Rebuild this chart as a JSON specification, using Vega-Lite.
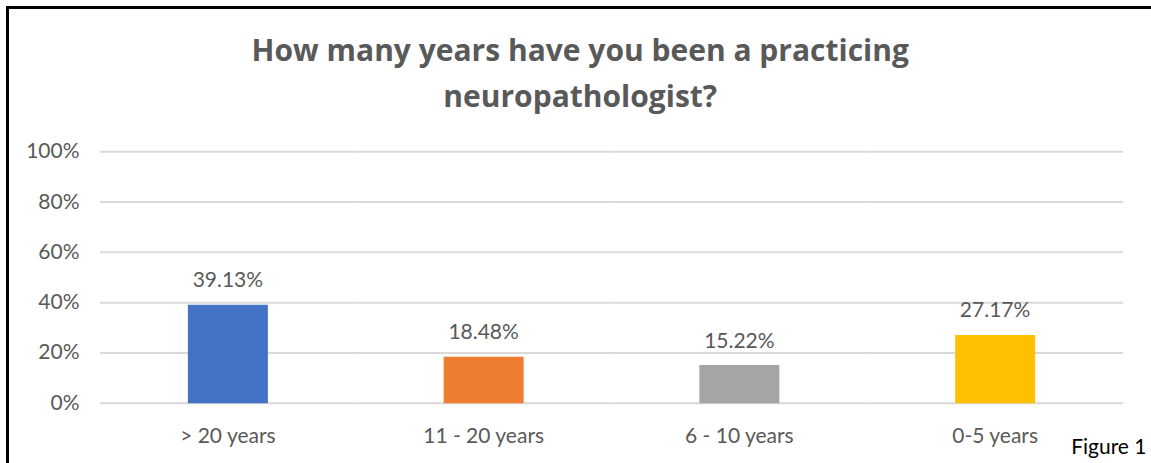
{
  "$schema": "https://vega.github.io/schema/vega-lite/v6.json",
  "autosize": "none",
  "width": 1145.5,
  "height": 470,
  "padding": {"left": 7.5, "top": 7.5, "right": 0, "bottom": 0},
  "background": "white",
  "config": {
    "view": {"stroke": "black", "strokeWidth": 3, "fill": "white"},
    "font": "Lato"
  },
  "title": {
    "text": ["How many years have you been a practicing", "neuropathologist?"],
    "font": "Open Sans",
    "fontSize": 30,
    "fontWeight": "bold",
    "color": "#595959",
    "anchor": "middle",
    "frame": "group",
    "offset": -105,
    "lineHeight": 46
  },
  "data": {
    "values": [
      {"cat": "> 20 years", "pct": 0.3913},
      {"cat": "11 - 20 years", "pct": 0.1848},
      {"cat": "6 - 10 years", "pct": 0.1522},
      {"cat": "0-5 years", "pct": 0.2717}
    ]
  },
  "encoding": {
    "x": {
      "field": "cat",
      "type": "nominal",
      "sort": ["> 20 years", "11 - 20 years", "6 - 10 years", "0-5 years"],
      "scale": {
        "domain": ["> 20 years", "11 - 20 years", "6 - 10 years", "0-5 years"],
        "paddingInner": 0,
        "paddingOuter": 0.2395,
        "align": 0.7551
      },
      "axis": {
        "orient": "bottom",
        "title": "Figure 1",
        "labelAngle": 0,
        "domain": false,
        "ticks": false,
        "tickSize": 0,
        "grid": false,
        "labelPadding": 0,
        "offset": -35.5,
        "labelBaseline": "alphabetic",
        "labelFont": "Lato",
        "labelFontSize": 21,
        "labelColor": "#595959",
        "titleFont": "Lato",
        "titleFontSize": 21,
        "titleFontWeight": "normal",
        "titleColor": "black",
        "titleX": 1138.5,
        "titleY": 11,
        "titleAlign": "right",
        "titleBaseline": "alphabetic"
      }
    },
    "y": {
      "field": "pct",
      "type": "quantitative",
      "scale": {"domain": [-0.2949, 1.5731], "nice": false, "zero": false},
      "axis": {
        "values": [0, 0.2, 0.4, 0.6, 0.8, 1],
        "format": ".0%",
        "title": null,
        "grid": false,
        "domain": false,
        "ticks": false,
        "tickSize": 0,
        "labelPadding": 0,
        "offset": -71.5,
        "labelFont": "Lato",
        "labelFontSize": 21,
        "labelColor": "#595959"
      }
    }
  },
  "layer": [
    {
      "data": {
        "values": [
          {"g": 0, "cat": ["> 20 years", "11 - 20 years", "6 - 10 years", "0-5 years"]},
          {"g": 0.2, "cat": ["> 20 years", "11 - 20 years", "6 - 10 years", "0-5 years"]},
          {"g": 0.4, "cat": ["> 20 years", "11 - 20 years", "6 - 10 years", "0-5 years"]},
          {"g": 0.6, "cat": ["> 20 years", "11 - 20 years", "6 - 10 years", "0-5 years"]},
          {"g": 0.8, "cat": ["> 20 years", "11 - 20 years", "6 - 10 years", "0-5 years"]},
          {"g": 1, "cat": ["> 20 years", "11 - 20 years", "6 - 10 years", "0-5 years"]}
        ]
      },
      "transform": [{"flatten": ["cat"]}],
      "mark": {"type": "tick", "size": 255.75, "thickness": 2, "color": "#d9d9d9", "opacity": 1},
      "encoding": {
        "y": {"field": "g", "type": "quantitative"}
      }
    },
    {
      "mark": {"type": "bar", "size": 80},
      "encoding": {
        "y2": {"datum": 0},
        "color": {
          "field": "cat",
          "type": "nominal",
          "scale": {
            "domain": ["> 20 years", "11 - 20 years", "6 - 10 years", "0-5 years"],
            "range": ["#4472C4", "#ED7D31", "#A5A5A5", "#FFC000"]
          },
          "legend": null
        }
      }
    },
    {
      "mark": {"type": "text", "baseline": "alphabetic", "dy": -17.5, "font": "Lato", "fontSize": 21, "color": "#595959"},
      "encoding": {
        "text": {"field": "pct", "type": "quantitative", "format": ".2%"}
      }
    }
  ]
}
